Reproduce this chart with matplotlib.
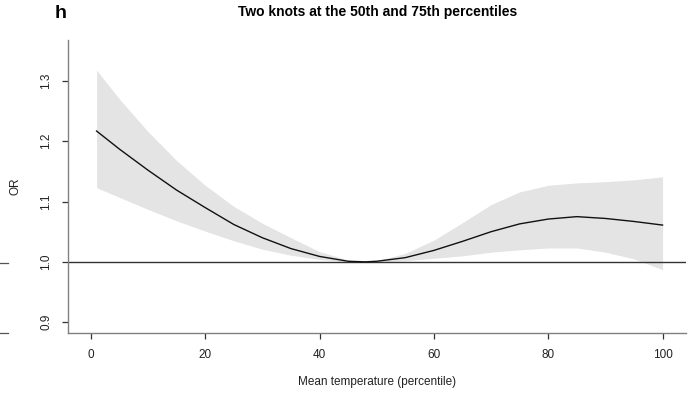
import numpy as np
import matplotlib.pyplot as plt
from matplotlib.lines import Line2D

plt.rcParams['font.family'] = ['Liberation Sans', 'DejaVu Sans']

# exposure-response curve: odds ratio with 95% CI by temperature percentile
percentile = [1, 5, 10, 15, 20, 25, 30, 35, 40, 45, 48,
              50, 55, 60, 65, 70, 75, 80, 85, 90, 95, 100]
or_fit = [1.217, 1.187, 1.152, 1.119, 1.090, 1.062, 1.040, 1.022, 1.009, 1.001, 1.000,
          1.001, 1.007, 1.019, 1.034, 1.050, 1.063, 1.071, 1.075, 1.072, 1.067, 1.061]
or_high = [1.318, 1.270, 1.216, 1.168, 1.127, 1.092, 1.064, 1.040, 1.017, 1.003, 1.000,
           1.002, 1.014, 1.036, 1.065, 1.095, 1.116, 1.127, 1.131, 1.133, 1.136, 1.141]
or_low = [1.123, 1.107, 1.087, 1.068, 1.051, 1.035, 1.021, 1.011, 1.004, 1.000, 1.000,
          1.000, 1.002, 1.006, 1.010, 1.016, 1.020, 1.023, 1.023, 1.016, 1.005, 0.987]

x_ticks = [0, 20, 40, 60, 80, 100]
y_ticks = [0.9, 1.0, 1.1, 1.2, 1.3]

W, H = 688, 399
fig = plt.figure(figsize=(W / 100, H / 100), dpi=100)
ax = fig.add_axes([68 / W, 1 - 333 / H, (686 - 68) / W, (333 - 40) / H])

ax.fill_between(percentile, or_low, or_high, color='#e4e4e4', lw=0, zorder=1)
ax.plot(percentile, or_fit, color='#111111', lw=1.0, zorder=3)
ax.axhline(1.0, color='#333333', lw=1.0, zorder=2)

ax.set_xlim(-4, 104.1)
ax.set_ylim(0.882, 1.368)
ax.set_xticks(x_ticks)
ax.set_yticks(y_ticks)
ax.set_yticklabels([f'{v:.1f}' for v in y_ticks], rotation=90, va='center')

for side in ['top', 'right']:
    ax.spines[side].set_visible(False)
for side in ['left', 'bottom']:
    ax.spines[side].set_color('#808080')
    ax.spines[side].set_linewidth(1.0)
ax.tick_params(axis='both', direction='out', length=4.5, width=0.9,
               color='#333333', labelsize=8.5, labelcolor='#222222')
ax.tick_params(axis='x', pad=7)
ax.tick_params(axis='y', pad=7)

ax.set_xlabel('Mean temperature (percentile)', fontsize=8.5, color='#222222', labelpad=11)
ax.set_ylabel('OR', fontsize=8.5, color='#222222', labelpad=13)

fig.text(378 / W, 1 - 12 / H, 'Two knots at the 50th and 75th percentiles',
         ha='center', va='center', fontsize=10, fontweight='bold')
fig.text(61 / W, 1 - 14 / H, 'h', ha='center', va='center',
         fontsize=14, fontweight='bold')

# stub ticks of the neighbouring panel on the left edge
for yp in [263, 333]:
    fig.add_artist(Line2D([0, 8 / W], [1 - yp / H, 1 - yp / H],
                          color='#555555', lw=0.9))

fig.savefig('out.png', dpi=100)
